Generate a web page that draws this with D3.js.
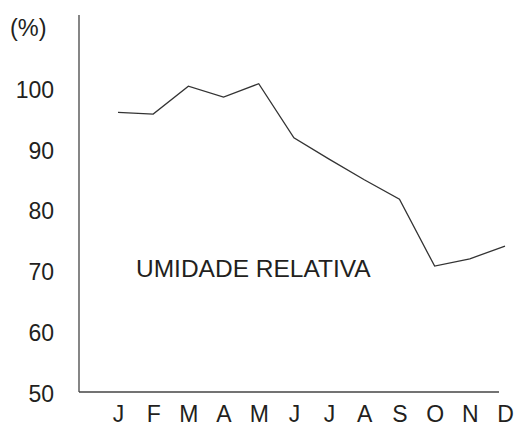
<!DOCTYPE html>
<html>
<head>
<meta charset="utf-8">
<script src="https://cdn.jsdelivr.net/npm/d3@7"></script>
<style>
  html, body { margin: 0; padding: 0; background: #fff; }
  svg { display: block; font-family: "Liberation Sans", Arial, sans-serif; }
</style>
</head>
<body>
<svg id="chart" width="514" height="427"></svg>
<script>
const months = ["J", "F", "M", "A", "M", "J", "J", "A", "S", "O", "N", "D"];
const monthKeys = months.map((m, i) => i);
const humidity = [96.0, 95.7, 100.3, 98.5, 100.7, 91.8, 88.3, 84.9, 81.7, 70.7, 71.9, 74.0];
const yTicks = [50, 60, 70, 80, 90, 100];
const yUnit = "(%)";
const seriesLabel = "UMIDADE RELATIVA";

const svg = d3.select("#chart");
const ink = "#231f20";

const axisX0 = 79, axisXEnd = 499, axisY0 = 392, axisTop = 15;

const y = d3.scaleLinear().domain([50, 112]).range([axisY0, axisTop]);
const x = d3.scalePoint().domain(monthKeys).range([118, 505]);

// y axis line
svg.append("line")
  .attr("x1", axisX0).attr("x2", axisX0)
  .attr("y1", y(50)).attr("y2", y(112))
  .attr("stroke", "#444").attr("stroke-width", 1.3);

// x axis line
svg.append("line")
  .attr("x1", axisX0).attr("x2", axisXEnd)
  .attr("y1", axisY0).attr("y2", axisY0)
  .attr("stroke", "#444").attr("stroke-width", 1.3);

// y ticks labels
const gy = svg.append("g")
  .attr("transform", `translate(${axisX0},2)`)
  .call(d3.axisLeft(y).tickValues(yTicks).tickSize(0).tickPadding(25).tickFormat(d3.format("d")));
gy.select(".domain").remove();
gy.selectAll("text").attr("font-size", 23).attr("fill", ink)
  .attr("font-family", '"Liberation Sans", Arial, sans-serif');

// x month labels
const gx = svg.append("g")
  .attr("transform", `translate(0,${axisY0})`)
  .call(d3.axisBottom(x).tickSize(0).tickPadding(14).tickFormat(i => months[i]));
gx.select(".domain").remove();
gx.selectAll("text").attr("font-size", 23).attr("fill", ink)
  .attr("font-family", '"Liberation Sans", Arial, sans-serif');

// unit label
svg.append("text")
  .attr("x", 10).attr("y", 36)
  .attr("font-size", 23.5).attr("fill", ink)
  .text(yUnit);

// line
const line = d3.line()
  .x((d, i) => x(i))
  .y(d => y(d));

svg.append("path")
  .datum(humidity)
  .attr("d", line)
  .attr("fill", "none")
  .attr("stroke", "#333")
  .attr("stroke-width", 1.3)
  .attr("stroke-linejoin", "miter");

// series label
svg.append("text")
  .attr("x", 136).attr("y", 277)
  .attr("font-size", 24.5).attr("fill", ink)
  .text(seriesLabel);
</script>
</body>
</html>
